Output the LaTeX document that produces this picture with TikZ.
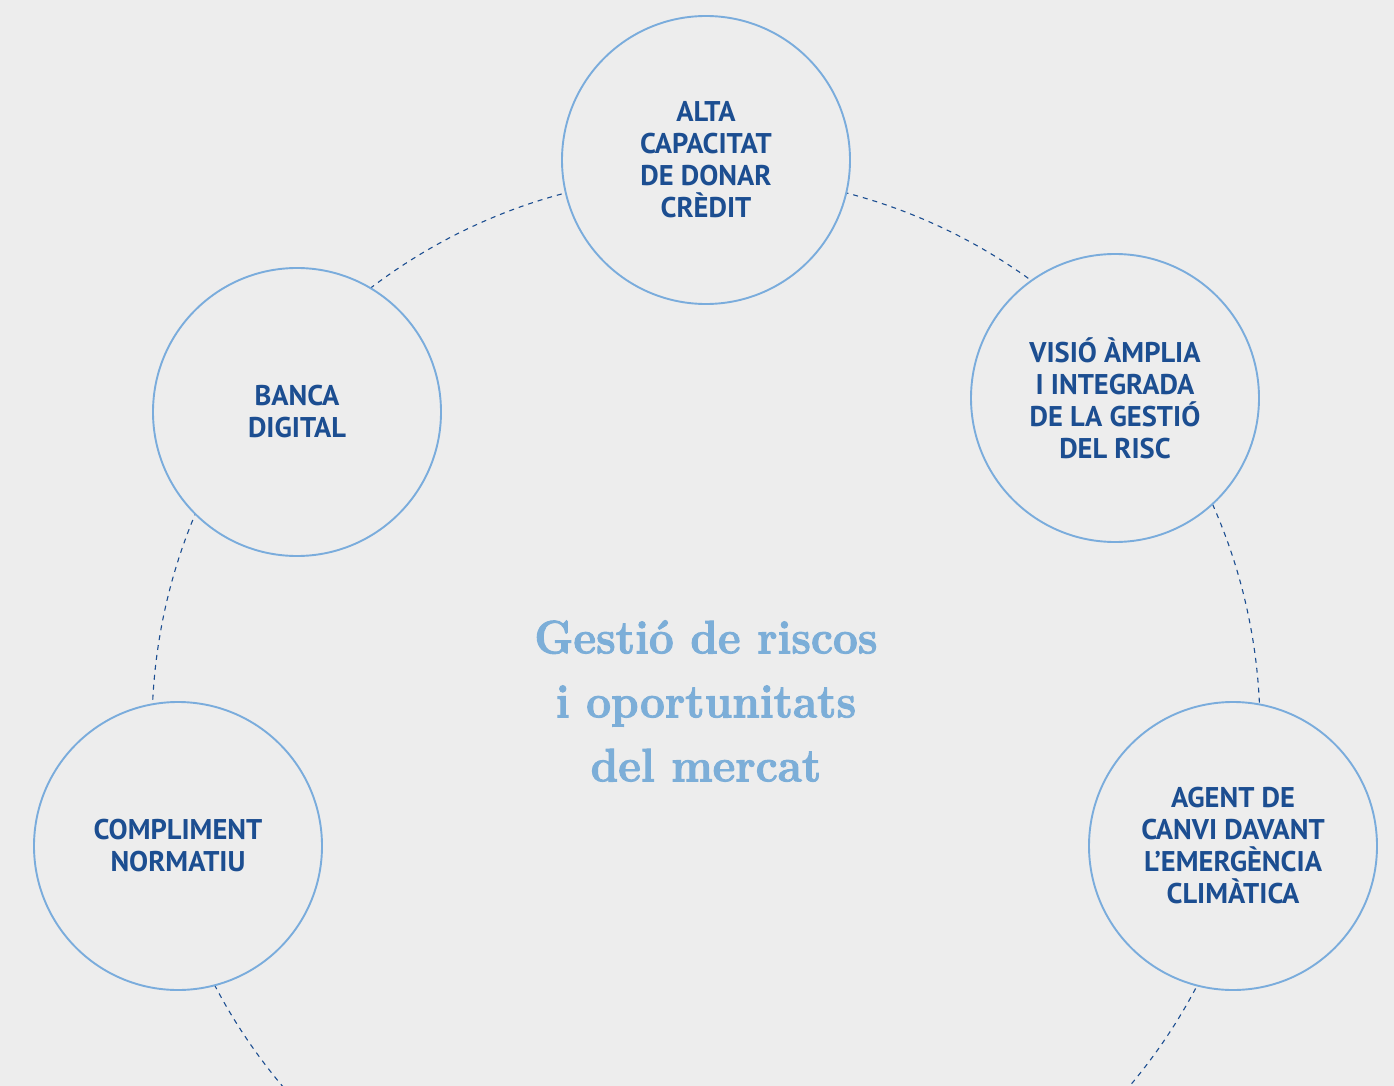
\documentclass[tikz,border=0pt]{standalone}
\usepackage{fontspec}
\setmainfont{Latin Modern Roman}
\newfontfamily\labelfont{PT Sans}
\newfontfamily\titlefont{Latin Modern Roman}[BoldFeatures={FakeBold=2,FakeStretch=0.94}]
\definecolor{bgc}{RGB}{237,237,237}
\definecolor{darkblue}{RGB}{28,78,145}
\definecolor{lightblue}{RGB}{122,172,220}
\definecolor{titleblue}{RGB}{124,174,216}
\tikzset{
  topic/.style={circle, draw=lightblue, line width=1.9pt, fill=bgc, minimum size=288pt, inner sep=0pt,
    text=darkblue, align=center, font=\labelfont\bfseries\fontsize{28.5}{32}\selectfont},
  ring/.style={draw=darkblue, line width=1.1pt, dash pattern=on 5pt off 5pt},
  title/.style={text=titleblue, align=center, font=\titlefont\bfseries\fontsize{47}{64}\selectfont}
}
\begin{document}
\begin{tikzpicture}[x=1pt,y=-1pt]
\fill[bgc] (0,0) rectangle (1394,1086);
\useasboundingbox (0,0) rectangle (1394,1086);
\begin{scope}
\clip (0,0) rectangle (1394,1086);
\coordinate (ringc) at (706,729);
\draw[ring] (ringc) circle[radius=554];
\end{scope}
\node[topic] (credit) at (706,160) {ALTA\\CAPACITAT\\DE DONAR\\CRÈDIT};
\node[topic] (banca) at (297,412) {BANCA\\DIGITAL};
\node[topic] (visio) at (1115,398) {VISIÓ ÀMPLIA\\I INTEGRADA\\DE LA GESTIÓ\\DEL RISC};
\node[topic] (compl) at (178,846) {COMPLIMENT\\NORMATIU};
\node[topic] (agent) at (1233,846) {AGENT DE\\CANVI DAVANT\\L’EMERGÈNCIA\\CLIMÀTICA};
\node[title] (center) at (706,701) {Gestió de riscos\\i oportunitats\\del mercat};
\end{tikzpicture}
\end{document}
